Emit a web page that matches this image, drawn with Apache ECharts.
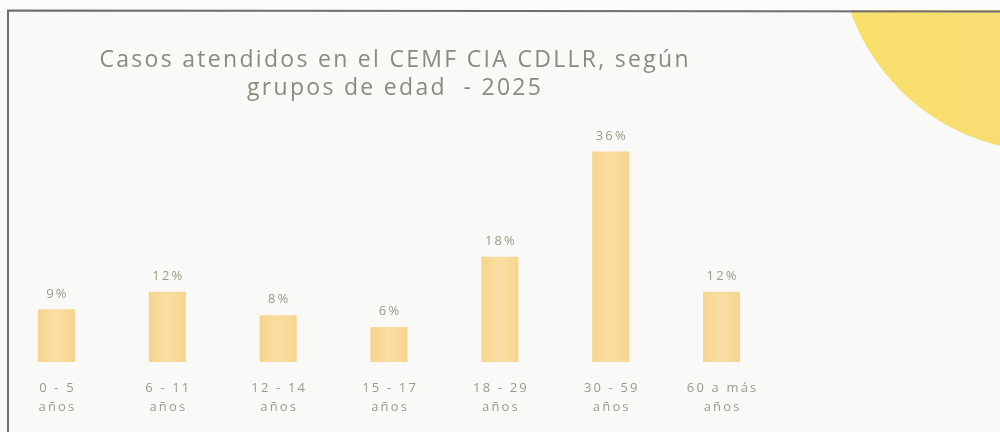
<!DOCTYPE html>
<html>
<head>
<meta charset="utf-8">
<script src="https://cdn.jsdelivr.net/npm/echarts@6/dist/echarts.min.js"></script>
<style>
  html, body { margin: 0; padding: 0; background: #f9f9f7; }
  #chart { width: 1000px; height: 432px; }
</style>
</head>
<body>
<div id="chart"></div>
<script>
// age groups (two lines each) and share of cases
const groups = ["0 - 5\naños", "6 - 11\naños", "12 - 14\naños", "15 - 17\naños", "18 - 29\naños", "30 - 59\naños", "60 a más\naños"];
const shares = [9, 12, 8, 6, 18, 36, 12];
const titleLines = ["Casos atendidos en el CEMF CIA CDLLR, según", "grupos de edad  - 2025"];

// the slide text is set with wide tracking, so put thin spaces between letters
const spaced = (s, sp) => s.split("\n").map((l) => Array.from(l).join(sp)).join("\n");

const chart = echarts.init(document.getElementById("chart"));

const option = {
  backgroundColor: "#f9f9f7",
  animation: false,
  title: {
    text: spaced(titleLines.join("\n"), "\u200A"),
    left: 389,
    textAlign: "center",
    top: 41,
    textStyle: {
      fontFamily: "Open Sans",
      fontSize: 23,
      fontWeight: "normal",
      color: "#8a8a7e",
      lineHeight: 28,
    },
  },
  grid: {
    left: 1,
    width: 776,
    top: 128,
    bottom: 70,
  },
  xAxis: {
    type: "category",
    data: groups,
    axisLine: { show: false },
    axisTick: { show: false },
    axisLabel: {
      interval: 0,
      margin: 17,
      fontFamily: "Open Sans",
      fontSize: 13,
      lineHeight: 19,
      color: "#9a9a8c",
      formatter: (v) => spaced(v, "\u2009"),
    },
  },
  yAxis: {
    type: "value",
    min: 0,
    max: 40,
    show: false,
    splitLine: { show: false },
  },
  series: [
    {
      type: "bar",
      data: shares,
      barWidth: 37,
      itemStyle: {
        color: {
          type: "linear",
          x: 0, y: 0, x2: 1, y2: 0,
          colorStops: [
            { offset: 0, color: "#f6d48e" },
            { offset: 0.5, color: "#f9dfa4" },
            { offset: 1, color: "#f6d48e" },
          ],
        },
      },
      label: {
        show: true,
        position: "top",
        distance: 9,
        formatter: (p) => spaced(p.value + "%", "\u2009"),
        fontFamily: "Open Sans",
        fontSize: 13,
        color: "#9a9a88",
      },
    },
  ],
  graphic: [
    // yellow disc in the top right corner
    {
      type: "circle",
      z: -10,
      shape: { cx: 1050, cy: -60, r: 212 },
      style: {
        fill: {
          type: "linear",
          x: 0, y: 0, x2: 1, y2: 0,
          colorStops: [
            { offset: 0, color: "#f8e06a" },
            { offset: 0.6, color: "#f8db7a" },
            { offset: 1, color: "#f6d590" },
          ],
        },
      },
    },
    // strip above the frame
    {
      type: "rect",
      z: -5,
      shape: { x: 0, y: 0, width: 1000, height: 10 },
      style: { fill: "#fbfbfa" },
    },
    // frame lines
    {
      type: "polyline",
      z: 5,
      shape: { points: [[8, 432], [8, 10.5], [1000, 11.5]] },
      style: { stroke: "#6e6e74", lineWidth: 2, fill: null },
    },
  ],
};

chart.setOption(option);
</script>
</body>
</html>
